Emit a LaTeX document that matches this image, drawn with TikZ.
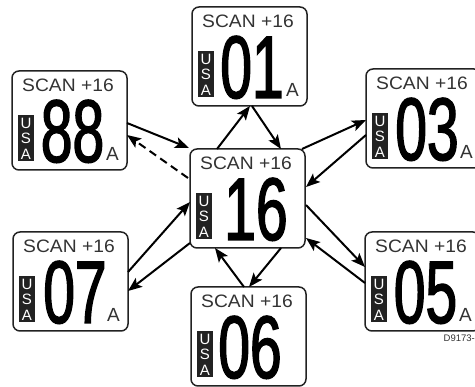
\documentclass[tikz,border=0pt]{standalone}
\usepackage{fontspec}
\setmainfont{Liberation Sans}
\newfontfamily\digitfont[FakeStretch=0.64,FakeBold=1.5]{Liberation Sans}
\newfontfamily\scanfont[FakeStretch=1.07]{Liberation Sans}
\usetikzlibrary{arrows.meta,calc}
\definecolor{ink}{HTML}{222222}
\definecolor{txt}{HTML}{333333}
\tikzset{
  plate/.style={draw=ink, line width=1.5pt, rounded corners=7pt, fill=white,
    minimum width=115pt, minimum height=99pt, inner sep=0pt, outer sep=0pt},
  scan/.style={font=\scanfont\fontsize{18}{18}\selectfont, text=txt, inner sep=0pt, anchor=base},
  usa/.style={font=\fontsize{15}{15}\selectfont, text=white, inner sep=0pt, anchor=base},
  usabox/.style={fill=ink},
  digits/.style={font=\digitfont\fontsize{89}{89}\selectfont, text=black, inner sep=0pt, anchor=base},
  suba/.style={font=\fontsize{19}{19}\selectfont, text=txt, inner sep=0pt, anchor=base west},
  link/.style={line width=2pt, draw=black, -{Stealth[length=14pt,width=11pt,inset=3pt]}},
  dashlink/.style={link, dash pattern=on 8pt off 5pt},
}
\newcommand\plate[6]{%
  \node[plate] (#1) at (#2+57.5,#3+49.5) {};
  \node[scan] (#1s) at ($(#1.north west)+(56,20.5)$) {SCAN +16};
  \fill[usabox] ($(#1.north west)+(6,44)$) rectangle ($(#1.north west)+(22,90)$);
  \node[usa] (#1u) at ($(#1.north west)+(14,57.5)$) {U};
  \node[usa] (#1v) at ($(#1.north west)+(14,72.7)$) {S};
  \node[usa] (#1w) at ($(#1.north west)+(14,88.2)$) {A};
  \node[digits] (#1n) at ($(#1.north west)+(#5,91)$) {#4};
  \node[suba] (#1a) at ($(#1.north west)+(94,90)$) {#6};
}
\begin{document}
\begin{tikzpicture}[x=1pt,y=-1pt]
\useasboundingbox (0,0) rectangle (475,387);
\clip (0,0) rectangle (475,387);
\plate{c}{190}{149}{16}{66}{}
\plate{t}{192}{7}{01}{60}{A}
\plate{l}{12}{71}{88}{60.5}{A}
\plate{ra}{366}{69}{03}{61}{A}
\plate{rb}{365}{232}{05}{60.5}{A}
\plate{b}{191}{287}{06}{59}{}
\plate{lb}{13}{232}{07}{62}{A}
% connectors
\draw[link] ($(l.north east)+(0,52)$) -- ($(c.north west)+(-1,-1)$);
\draw[dashlink] ($(c.north west)+(-2,29)$) -- ($(l.north east)+(0,64)$);
\draw[link] ($(c.north west)+(27,0)$) -- ($(t.south west)+(58,0)$);
\draw[link] ($(t.south west)+(60,0)$) -- ($(c.north west)+(91,0)$);
\draw[link] ($(c.north east)+(-3,0)$) -- ($(ra.north west)+(0,51)$);
\draw[link] ($(ra.north west)+(0,66)$) -- ($(c.north east)+(1,38)$);
\draw[link] ($(c.north east)+(1,56)$) -- ($(rb.north west)+(0,35)$);
\draw[link] ($(rb.north west)+(0,51)$) -- ($(c.north east)+(1,89)$);
\draw[link] ($(c.south west)+(91,0)$) -- ($(b.north west)+(58,0)$);
\draw[link] ($(b.north west)+(53,0)$) -- ($(c.south west)+(25,0)$);
\draw[link] ($(lb.north east)+(0,40)$) -- ($(c.north west)+(0,53)$);
\draw[link] ($(c.north west)+(0,94)$) -- ($(lb.north east)+(0,59)$);
\node[font=\fontsize{9.5}{9.5}\selectfont, text=txt, inner sep=0pt, anchor=base east] (code) at (475,342) {D9173-};
\end{tikzpicture}
\end{document}
